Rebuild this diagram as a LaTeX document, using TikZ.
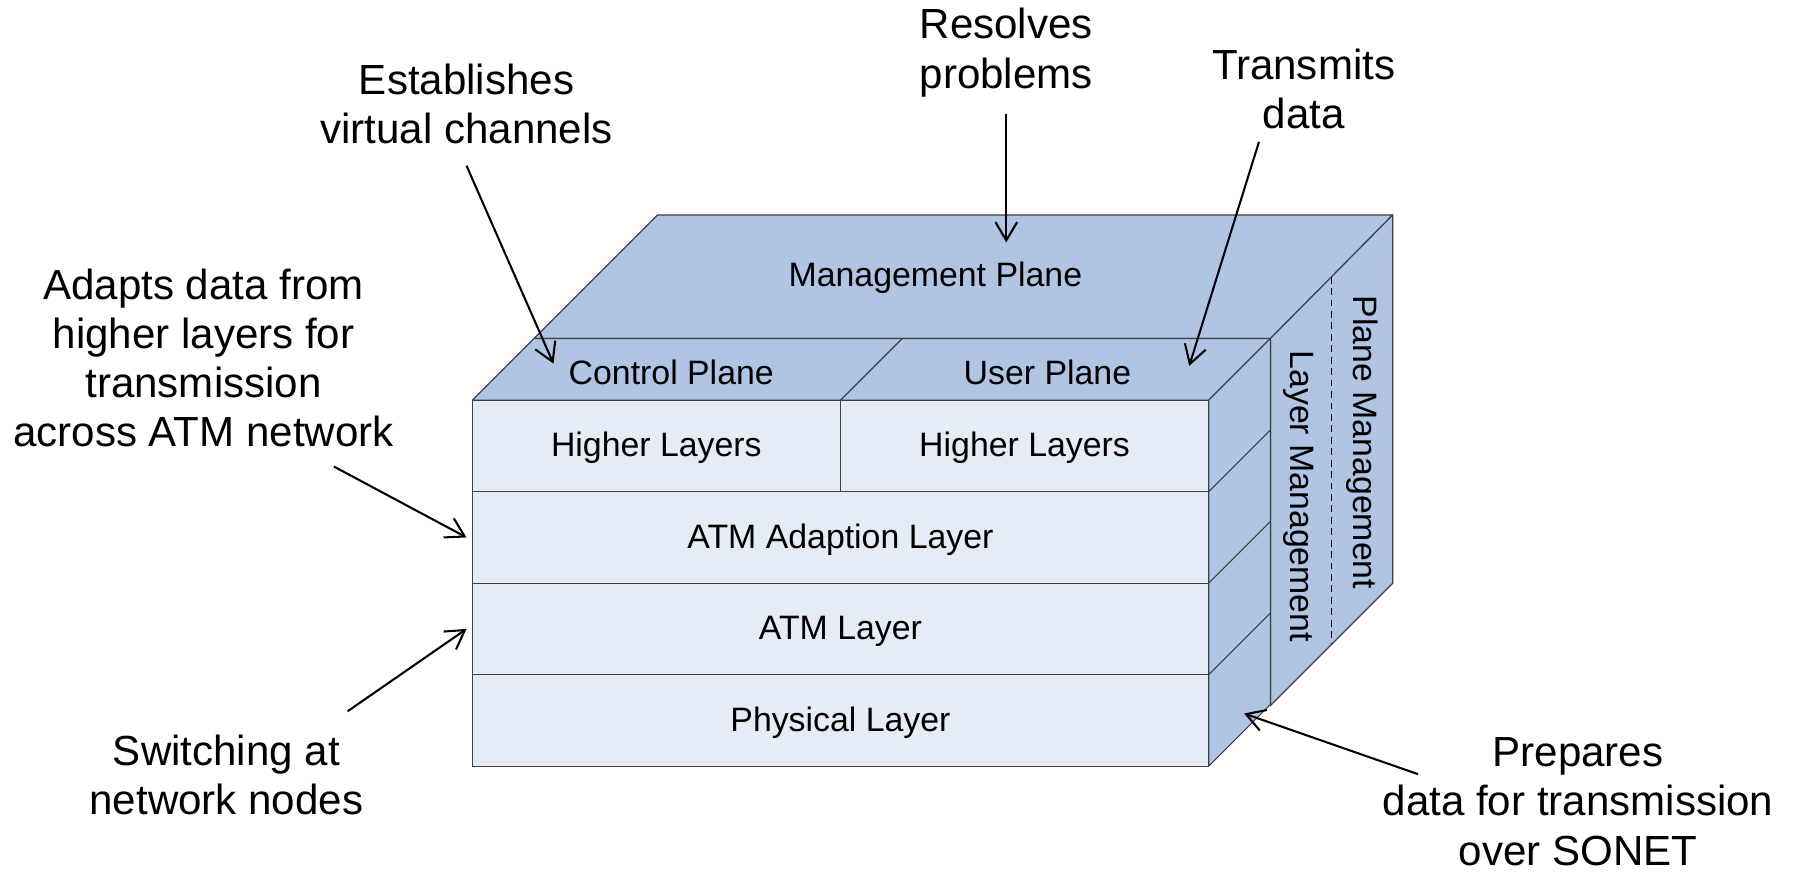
\documentclass[tikz,border=0pt]{standalone}
\usepackage{fontspec}
\setmainfont{Liberation Sans}
\usetikzlibrary{arrows.meta}

\definecolor{faceblue}{RGB}{176,196,228}
\definecolor{frontblue}{RGB}{230,236,246}
\definecolor{edgegray}{RGB}{64,64,64}

\tikzset{
  face/.style={fill=faceblue, draw=edgegray, line width=0.5pt, line join=round},
  front/.style={fill=frontblue, draw=edgegray, line width=0.5pt},
  edge/.style={draw=edgegray, line width=0.5pt},
  facelabel/.style={font=\fontsize{14.8pt}{17pt}\selectfont, inner sep=0pt},
  callout/.style={font=\fontsize{18.4pt}{21.5pt}\selectfont, align=center, inner sep=0pt},
  pointer/.style={draw=black, line width=0.9pt,
    -{Straight Barb[length=8pt,width=9.5pt,line width=0.9pt]}}
}

\begin{document}
\begin{tikzpicture}[x=0.5pt, y=-0.5pt]
\useasboundingbox (0,0) rectangle (1568,763);

% Management plane block: top face and right face
\path[face] (467,296) -- (575,188) -- (1218,188) -- (1111,296) -- cycle;
\path[face] (1111,296) -- (1218,188) -- (1218,510) -- (1111,617) -- cycle;
\draw[draw=black, line width=0.5pt, dash pattern=on 3pt off 2pt] (1164.5,242) -- (1164.5,563.5);

% Top of the layer stack: control plane and user plane
\path[face] (413,350) -- (467,296) -- (1111,296) -- (1057,350) -- cycle;
\draw[edge] (735,350) -- (789,296);

% Right side of the layer stack
\path[face] (1057,350) -- (1111,296) -- (1111,616) -- (1057,670) -- cycle;
\foreach \yy in {430,510,590}
  \draw[edge] (1057,\yy) -- (1111,\yy-54);

% Front face: the layers
\path[front] (413,350) rectangle (1057,430);
\draw[edge] (735,350) -- (735,430);
\path[front] (413,430) rectangle (1057,510);
\path[front] (413,510) rectangle (1057,590);
\path[front] (413,590) rectangle (1057,670);

% Face labels
\node[facelabel] (mgmt) at (818,243) {Management Plane};
\node[facelabel] (ctrl) at (587,326) {Control Plane};
\node[facelabel] (user) at (916,326) {User Plane};
\node[facelabel] (hl1) at (574,392) {Higher Layers};
\node[facelabel] (hl2) at (896,392) {Higher Layers};
\node[facelabel] (aal) at (735,472) {ATM Adaption Layer};
\node[facelabel] (atm) at (735,552) {ATM Layer};
\node[facelabel] (phy) at (735,632) {Physical Layer};
\node[facelabel, rotate=-90] (lmgmt) at (1136,434) {Layer Management};
\node[facelabel, rotate=-90] (pmgmt) at (1191,387) {Plane Management};

% Callouts
\node[callout] (est) at (408,91) {Establishes\\virtual channels};
\node[callout] (res) at (880,46) {Resolves\\problems};
\node[callout] (trn) at (1140,78) {Transmits\\data};
\node[callout] (adp) at (178,313) {Adapts data from\\higher layers for\\transmission\\across ATM network};
\node[callout] (swt) at (198,678) {Switching at\\network nodes};
\node[callout] (prp) at (1380,701) {Prepares\\data for transmission\\over SONET};

% Arrow ends
\coordinate (estT) at (408,145);  \coordinate (estH) at (484,318);
\coordinate (resT) at (880,100);  \coordinate (resH) at (880,212);
\coordinate (trnT) at (1101,124); \coordinate (trnH) at (1040,320);
\coordinate (adpT) at (292,408);  \coordinate (adpH) at (408,470);
\coordinate (swtT) at (304,622);  \coordinate (swtH) at (408,550);
\coordinate (prpT) at (1240,677); \coordinate (prpH) at (1088,624);

\draw[pointer] (estT) -- (estH);
\draw[pointer] (resT) -- (resH);
\draw[pointer] (trnT) -- (trnH);
\draw[pointer] (adpT) -- (adpH);
\draw[pointer] (swtT) -- (swtH);
\draw[pointer] (prpT) -- (prpH);
\end{tikzpicture}
\end{document}
